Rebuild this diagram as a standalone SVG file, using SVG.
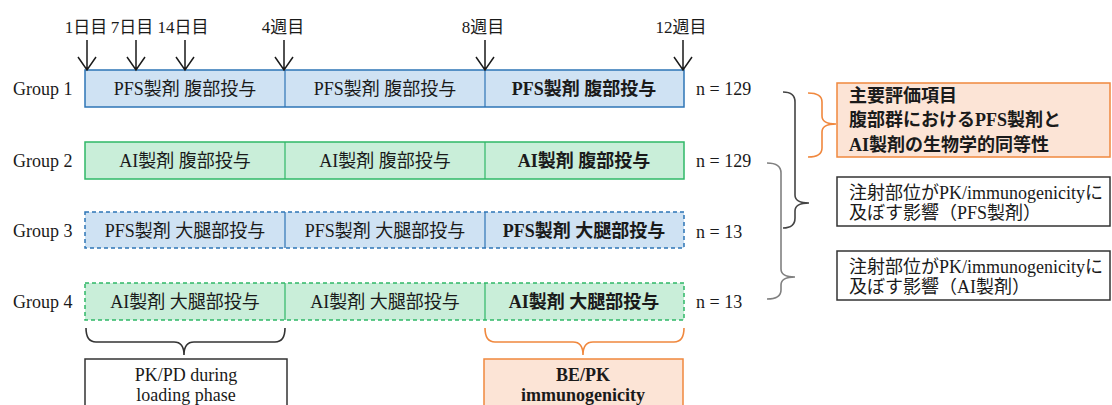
<svg xmlns="http://www.w3.org/2000/svg" width="1112" height="405" viewBox="0 0 1112 405">
<defs>
<style>
text{font-family:"Liberation Serif","Noto Sans CJK JP",serif;font-size:18px;fill:#1a1a1a;dominant-baseline:central}
.mid{text-anchor:middle}
.b{font-weight:bold}
.top{font-size:17px}
.blue{fill:#cfe2f3;stroke:#2e75b6;stroke-width:1.5}
.green{fill:#c9eed9;stroke:#2fb867;stroke-width:1.5}
.dash{stroke-dasharray:4 3}
.divb{stroke:#2e75b6;stroke-width:1.2}
.divg{stroke:#2fb867;stroke-width:1.2}
.wbox{fill:#fff;stroke:#333;stroke-width:1.5}
.obox{fill:#fce4d6;stroke:#f0883e;stroke-width:1.5}
.arr{stroke:#1a1a1a;stroke-width:1.5;fill:none}
.br{fill:none;stroke-width:1.6}
</style>
</defs>

<g id="timeline-labels">
<text class="mid top" x="86" y="27">1日目</text>
<text class="mid top" x="132" y="27">7日目</text>
<text class="mid top" x="183" y="27">14日目</text>
<text class="mid top" x="283" y="27">4週目</text>
<text class="mid top" x="483" y="27">8週目</text>
<text class="mid top" x="681" y="27">12週目</text>
</g>

<g id="group1">
<text x="13" y="89">Group 1</text>
<rect class="blue" x="85" y="70" width="599" height="37"/>
<line class="divb" x1="285" y1="70" x2="285" y2="107"/>
<line class="divb" x1="485" y1="70" x2="485" y2="107"/>
<text class="mid" x="185" y="89">PFS製剤 腹部投与</text>
<text class="mid" x="385" y="89">PFS製剤 腹部投与</text>
<text class="mid b" x="584" y="89">PFS製剤 腹部投与</text>
<text x="696" y="89">n = 129</text>
</g>

<g id="group2">
<text x="13" y="161">Group 2</text>
<rect class="green" x="85" y="142" width="599" height="37"/>
<line class="divg" x1="285" y1="142" x2="285" y2="179"/>
<line class="divg" x1="485" y1="142" x2="485" y2="179"/>
<text class="mid" x="185" y="161">AI製剤 腹部投与</text>
<text class="mid" x="385" y="161">AI製剤 腹部投与</text>
<text class="mid b" x="584" y="161">AI製剤 腹部投与</text>
<text x="696" y="161">n = 129</text>
</g>

<g id="group3">
<text x="13" y="231">Group 3</text>
<rect class="blue dash" x="85" y="212" width="599" height="36"/>
<line class="divb" x1="285" y1="212" x2="285" y2="248"/>
<line class="divb" x1="485" y1="212" x2="485" y2="248"/>
<text class="mid" x="185" y="231">PFS製剤 大腿部投与</text>
<text class="mid" x="385" y="231">PFS製剤 大腿部投与</text>
<text class="mid b" x="584" y="231">PFS製剤 大腿部投与</text>
<text x="696" y="232">n = 13</text>
</g>

<g id="group4">
<text x="13" y="302">Group 4</text>
<rect class="green dash" x="85" y="283" width="599" height="37"/>
<line class="divg" x1="285" y1="283" x2="285" y2="320"/>
<line class="divg" x1="485" y1="283" x2="485" y2="320"/>
<text class="mid" x="185" y="302">AI製剤 大腿部投与</text>
<text class="mid" x="385" y="302">AI製剤 大腿部投与</text>
<text class="mid b" x="584" y="302">AI製剤 大腿部投与</text>
<text x="696" y="302">n = 13</text>
</g>

<g id="primary-endpoint">
<rect class="obox" x="837" y="83" width="273" height="74"/>
<text class="b" x="849" y="96">主要評価項目</text>
<text class="b" x="849" y="120">腹部群におけるPFS製剤と</text>
<text class="b" x="849" y="145">AI製剤の生物学的同等性</text>
</g>

<g id="site-effect-pfs">
<rect class="wbox" x="837" y="177" width="273" height="49"/>
<text x="849" y="193">注射部位がPK/immunogenicityに</text>
<text x="849" y="213">及ぼす影響（PFS製剤）</text>
</g>

<g id="site-effect-ai">
<rect class="wbox" x="837" y="251" width="273" height="49"/>
<text x="849" y="267">注射部位がPK/immunogenicityに</text>
<text x="849" y="287">及ぼす影響（AI製剤）</text>
</g>

<g id="loading-phase">
<rect class="wbox" x="85" y="359" width="202" height="60"/>
<text class="mid" x="186" y="375">PK/PD during</text>
<text class="mid" x="186" y="395">loading phase</text>
</g>

<g id="be-pk">
<rect class="obox" x="484" y="359" width="199" height="60"/>
<text class="mid b" x="583" y="375">BE/PK</text>
<text class="mid b" x="583" y="395">immunogenicity</text>
</g>

<g id="connectors">
<g class="arr">
<path d="M87 40V70M78 57L87 70L96 57"/>
<path d="M136 40V70M127 57L136 70L145 57"/>
<path d="M185 40V70M176 57L185 70L194 57"/>
<path d="M284 40V70M275 57L284 70L293 57"/>
<path d="M485 40V70M476 57L485 70L494 57"/>
<path d="M683 40V70M674 57L683 70L692 57"/>
</g>
<path class="br" stroke="#444" d="M783 92Q795 92 795 102L795 195Q795 203 809 203Q795 203 795 211L795 218Q795 228 783 228"/>
<path class="br" stroke="#808080" d="M767 163Q781 163 781 173L781 269Q781 277 795 277Q781 277 781 285L781 290Q781 299 767 299"/>
<path class="br" stroke="#f0883e" d="M808 93Q822 93 822 102L822 116Q822 124 836 124Q822 124 822 132L822 148Q822 157 808 157"/>
<path class="br" stroke="#333" d="M86 328Q86 342 96 342L174 342Q184 342 184 355Q184 342 194 342L275 342Q285 342 285 328"/>
<path class="br" stroke="#f0883e" d="M485 328Q485 342 495 342L573 342Q583 342 583 355Q583 342 593 342L674 342Q684 342 684 328"/>
</g>
</svg>
